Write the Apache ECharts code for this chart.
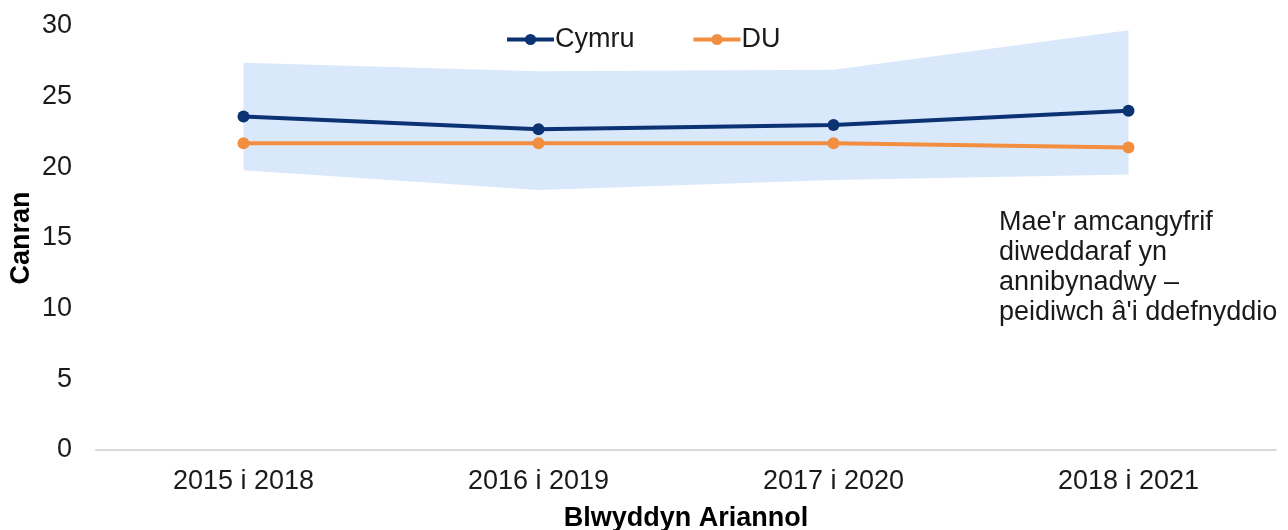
<!DOCTYPE html>
<html>
<head>
<meta charset="utf-8">
<script src="https://cdn.jsdelivr.net/npm/echarts@6/dist/echarts.min.js"></script>
<style>html,body{margin:0;padding:0;background:#fff;}#c{width:1288px;height:530px;}</style>
</head>
<body>
<div id="c"></div>
<script>
const categories = ['2015 i 2018', '2016 i 2019', '2017 i 2020', '2018 i 2021'];
const cymru = [23.6, 22.7, 23.0, 24.0];
const du = [21.7, 21.7, 21.7, 21.4];
const ciLower = [19.8, 18.4, 19.1, 19.5];
const ciUpper = [27.4, 26.8, 26.9, 29.7];
const yTicks = [0, 5, 10, 15, 20, 25, 30];
const note = "Mae'r amcangyfrif\ndiweddaraf yn\nannibynadwy –\npeidiwch â'i ddefnyddio";

const FONT = '"Liberation Sans", Arial, sans-serif';
const chart = echarts.init(document.getElementById('c'), null, {renderer: 'canvas'});
const band = ciUpper.map((u, i) => +(u - ciLower[i]).toFixed(2));

chart.setOption({
  animation: false,
  textStyle: {fontFamily: FONT},
  grid: {left: 96, right: 12, top: 26, bottom: 80, containLabel: false, outerBoundsMode: 'none'},
  legend: {
    data: ['Cymru', 'DU'],
    top: 21, left: 500,
    itemWidth: 47, itemHeight: 14, itemGap: 57,
    lineStyle: {width: 4},
    textStyle: {fontSize: 27, color: '#1a1a1a', fontFamily: FONT, padding: [0, 0, 0, -4]}
  },
  xAxis: {
    type: 'category', data: categories, boundaryGap: true,
    axisLine: {lineStyle: {color: '#d9d9d9', width: 2}},
    axisTick: {show: false},
    axisLabel: {fontSize: 27, color: '#1a1a1a', margin: 18, fontFamily: FONT},
    name: 'Blwyddyn Ariannol', nameLocation: 'middle', nameGap: 55,
    nameTextStyle: {fontSize: 27, fontWeight: 'bold', color: '#000', fontFamily: FONT}
  },
  yAxis: {
    type: 'value', min: 0, max: 30, interval: 5,
    axisLine: {show: false}, axisTick: {show: false},
    splitLine: {show: false},
    axisLabel: {fontSize: 27, color: '#1a1a1a', margin: 24, fontFamily: FONT},
    name: 'Canran', nameLocation: 'middle', nameGap: 61, nameRotate: 90,
    nameMoveOverlap: false,
    nameTextStyle: {fontSize: 27, fontWeight: 'bold', color: '#000', fontFamily: FONT}
  },
  graphic: [{
    type: 'text', left: 999, top: 208,
    style: {text: note, font: '27px ' + FONT, fill: '#1a1a1a', lineHeight: 30}
  }],
  series: [
    {name: 'lower', type: 'line', data: ciLower, stack: 'ci', symbol: 'none',
     lineStyle: {opacity: 0}, silent: true, z: 1},
    {name: 'band', type: 'line', data: band, stack: 'ci', symbol: 'none',
     lineStyle: {opacity: 0}, areaStyle: {color: '#dae8fc', opacity: 1}, silent: true, z: 1},
    {name: 'Cymru', type: 'line', data: cymru, symbol: 'circle', symbolSize: 12,
     itemStyle: {color: '#0b3373'}, lineStyle: {width: 4, color: '#0b3373'}, z: 3},
    {name: 'DU', type: 'line', data: du, symbol: 'circle', symbolSize: 12,
     itemStyle: {color: '#f28e3f'}, lineStyle: {width: 4, color: '#f28e3f'}, z: 3}
  ]
});
</script>
</body>
</html>
